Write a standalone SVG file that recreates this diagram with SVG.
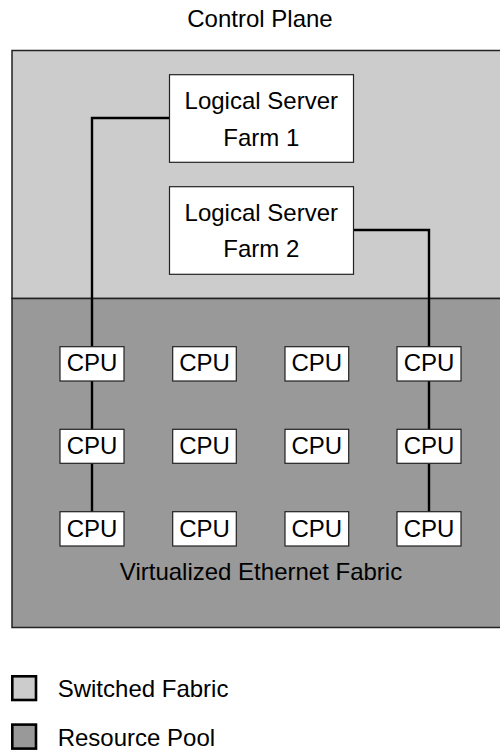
<svg xmlns="http://www.w3.org/2000/svg" width="500" height="751" viewBox="0 0 500 751">
  <style>
    text { font-family: "Liberation Sans", Arial, Helvetica, sans-serif; font-size: 24px; fill: #000; text-anchor: middle; }
    .switched { fill: #cccccc; }
    .pool { fill: #999999; }
    .region { stroke: #222; stroke-width: 1.5; }
    .box { fill: #fff; stroke: #222; stroke-width: 1.2; }
    .wire { fill: none; stroke: #000; stroke-width: 2.4; }
    .key { stroke: #000; stroke-width: 2.6; }
    .legend { text-anchor: start; }
  </style>

  <!-- title -->
  <text x="260" y="26.5">Control Plane</text>

  <!-- background regions (extend past the right edge) -->
  <g id="switched-fabric">
    <rect class="switched region" x="12" y="50.5" width="500" height="248"/>
  </g>
  <g id="resource-pool">
    <rect class="pool region" x="12" y="298.5" width="500" height="329"/>
    <text x="261" y="580">Virtualized Ethernet Fabric</text>
  </g>

  <!-- connectors -->
  <g id="connectors">
    <polyline class="wire" points="169.5,118 92,118 92,347"/>
    <line class="wire" x1="92" y1="381" x2="92" y2="429.5"/>
    <line class="wire" x1="92" y1="463.5" x2="92" y2="512"/>
    <polyline class="wire" points="353.5,230 429,230 429,347"/>
    <line class="wire" x1="429" y1="381" x2="429" y2="429.5"/>
    <line class="wire" x1="429" y1="463.5" x2="429" y2="512"/>
  </g>

  <!-- logical server farms -->
  <g id="farm1">
    <rect class="box" x="169.5" y="74.7" width="184" height="87.6"/>
    <text x="261.3" y="109">Logical Server</text>
    <text x="261.3" y="145.7">Farm 1</text>
  </g>
  <g id="farm2">
    <rect class="box" x="169.5" y="186.7" width="184" height="87.6"/>
    <text x="261.3" y="220.7">Logical Server</text>
    <text x="261.3" y="257.3">Farm 2</text>
  </g>

  <!-- CPU grid: 4 columns x 3 rows -->
  <g id="cpu-r1c1"><rect class="box" x="60" y="346.7" width="64" height="34.3"/><text x="92" y="371">CPU</text></g>
  <g id="cpu-r1c2"><rect class="box" x="172.7" y="346.7" width="63.6" height="34.3"/><text x="204.5" y="371">CPU</text></g>
  <g id="cpu-r1c3"><rect class="box" x="285" y="346.7" width="63.7" height="34.3"/><text x="316.8" y="371">CPU</text></g>
  <g id="cpu-r1c4"><rect class="box" x="397" y="346.7" width="64" height="34.3"/><text x="429" y="371">CPU</text></g>

  <g id="cpu-r2c1"><rect class="box" x="60" y="429.3" width="64" height="34"/><text x="92" y="454">CPU</text></g>
  <g id="cpu-r2c2"><rect class="box" x="172.7" y="429.3" width="63.6" height="34"/><text x="204.5" y="454">CPU</text></g>
  <g id="cpu-r2c3"><rect class="box" x="285" y="429.3" width="63.7" height="34"/><text x="316.8" y="454">CPU</text></g>
  <g id="cpu-r2c4"><rect class="box" x="397" y="429.3" width="64" height="34"/><text x="429" y="454">CPU</text></g>

  <g id="cpu-r3c1"><rect class="box" x="60" y="511.7" width="64" height="34.3"/><text x="92" y="536.7">CPU</text></g>
  <g id="cpu-r3c2"><rect class="box" x="172.7" y="511.7" width="63.6" height="34.3"/><text x="204.5" y="536.7">CPU</text></g>
  <g id="cpu-r3c3"><rect class="box" x="285" y="511.7" width="63.7" height="34.3"/><text x="316.8" y="536.7">CPU</text></g>
  <g id="cpu-r3c4"><rect class="box" x="397" y="511.7" width="64" height="34.3"/><text x="429" y="536.7">CPU</text></g>

  <!-- legend -->
  <g id="legend-switched">
    <rect class="switched key" x="12.3" y="676.3" width="23.7" height="23.7"/>
    <text class="legend" x="57.7" y="696.7">Switched Fabric</text>
  </g>
  <g id="legend-pool">
    <rect class="pool key" x="12.3" y="724.6" width="23.7" height="24"/>
    <text class="legend" x="57.7" y="745.7">Resource Pool</text>
  </g>
</svg>
